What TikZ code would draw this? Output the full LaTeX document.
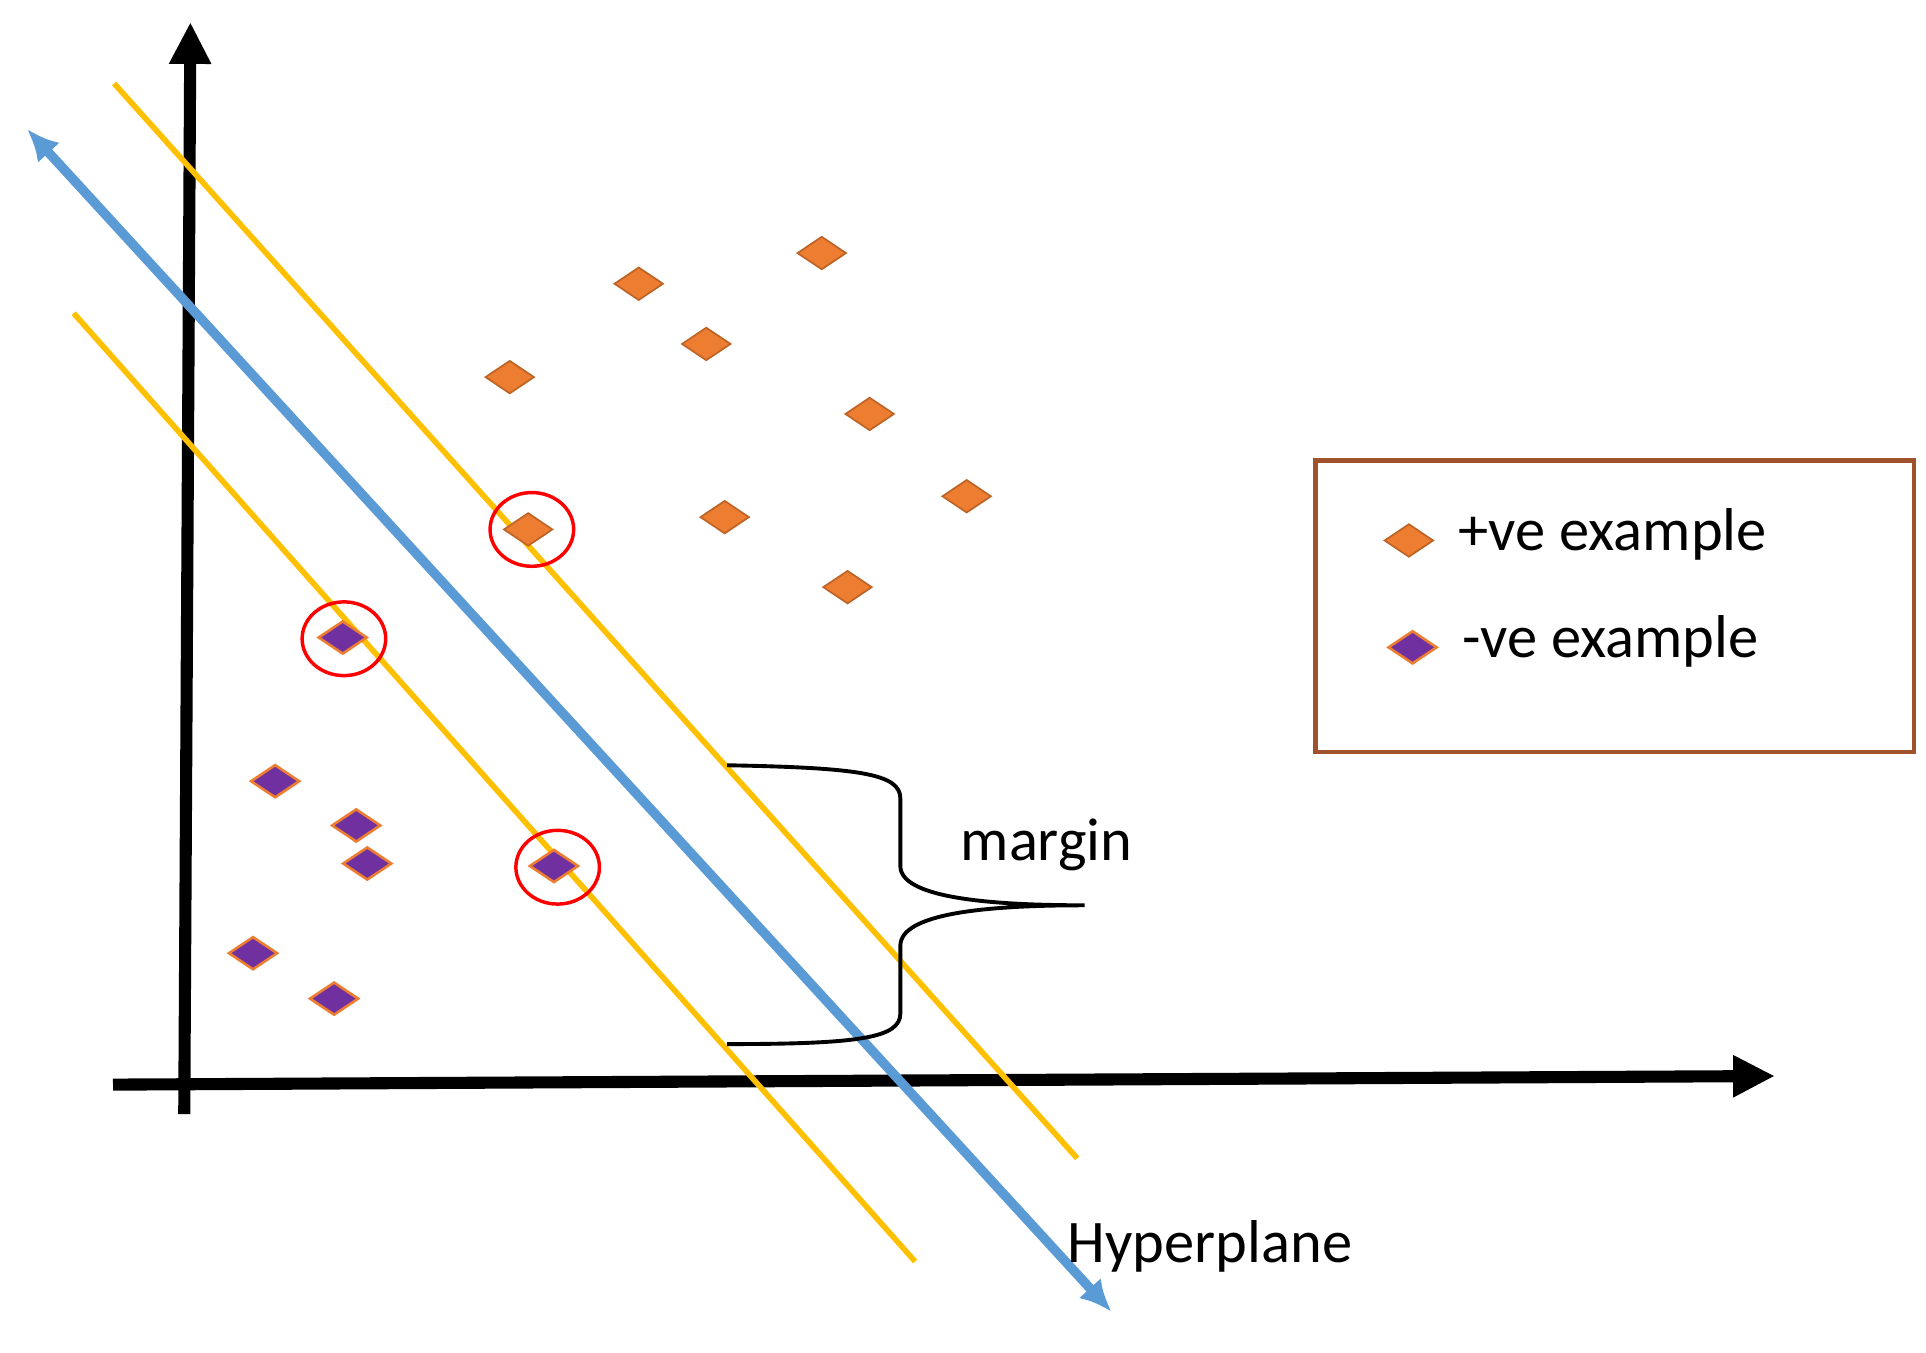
\documentclass[tikz,border=0pt]{standalone}
\usepackage{fontspec}
\setmainfont{Carlito}
\usetikzlibrary{shapes.geometric,arrows.meta}
\definecolor{pos}{HTML}{ED7D31}
\definecolor{neg}{HTML}{7030A0}
\definecolor{yel}{HTML}{FFC000}
\definecolor{blu}{HTML}{5B9BD5}
\definecolor{brd}{HTML}{A0522D}
\begin{document}
\begin{tikzpicture}[x=0.01cm,y=-0.01cm,
  dm/.style={diamond,inner sep=0pt,minimum width=0.40cm,minimum height=0.27cm},
  pd/.style={dm,fill=pos,draw=pos!80!black,line width=0.4pt},
  nd/.style={dm,fill=neg,draw=pos,line width=0.6pt},
  sv/.style={ellipse,draw=red,line width=0.8pt,minimum width=0.68cm,minimum height=0.6cm,inner sep=0pt},
  ax/.style={line width=2.8pt,-{Triangle[length=0.34cm,width=0.32cm]}},
  yl/.style={yel,line width=1.3pt},
  lbl/.style={font=\fontsize{14}{16}\selectfont,inner sep=0pt}]
\useasboundingbox (0,0) rectangle (1568,1101.5);
% axes
\coordinate (yb) at (150,907); \coordinate (yt) at (155,18);
\coordinate (xb) at (92,883); \coordinate (xt) at (1445,876);
\draw[ax] (yb) -- (yt);
\draw[ax] (xb) -- (xt);
% margin lines
\coordinate (u1) at (93,68); \coordinate (u2) at (877,943);
\coordinate (l1) at (60,255); \coordinate (l2) at (745,1027);
\draw[yl] (u1) -- (u2);
\draw[yl] (l1) -- (l2);
% hyperplane
\coordinate (h1) at (22,105); \coordinate (h2) at (905,1068);
\draw[blu,line width=2.2pt,{Latex[length=0.26cm,width=0.24cm]}-{Latex[length=0.26cm,width=0.24cm]}] (h1) -- (h2);
% positives
\foreach \p [count=\i] in {(669,206),(520,231),(575,280),(415,307),(708,337),(787,404),(590,421),(430,431),(690,478)}
  \node[pd] (p\i) at \p {};
% negatives
\foreach \p [count=\i] in {(279,519),(224,636),(290,672),(299,703),(451,705),(206,776),(272,813)}
  \node[nd] (n\i) at \p {};
% support vectors
\node[sv] (s1) at (433,431) {};
\node[sv] (s2) at (280,520) {};
\node[sv] (s3) at (454,706) {};
% brace
\coordinate (b1) at (592,623); \coordinate (bt) at (883,737); \coordinate (b2) at (592,850);
\draw[line width=0.9pt] (b1) .. controls (700,625) and (733,630) .. (733,650)
  -- (733,705) .. controls (733,730) and (800,737) .. (bt)
  .. controls (800,737) and (733,744) .. (733,770)
  -- (733,825) .. controls (733,845) and (700,850) .. (b2);
\node[lbl] (mg) at (852,688) {margin};
\node[lbl] (hp) at (985,1015) {Hyperplane};
% legend
\node[draw=brd,line width=1pt,minimum width=4.87cm,minimum height=2.37cm,inner sep=0pt] (lg) at (1314.5,493.5) {};
\node[pd] (lp) at (1147,440) {};
\node[nd] (ln) at (1150,527) {};
\node[lbl,anchor=west] (lpt) at (1187,435) {+ve example};
\node[lbl,anchor=west] (lnt) at (1190,522) {-ve example};
\end{tikzpicture}
\end{document}
